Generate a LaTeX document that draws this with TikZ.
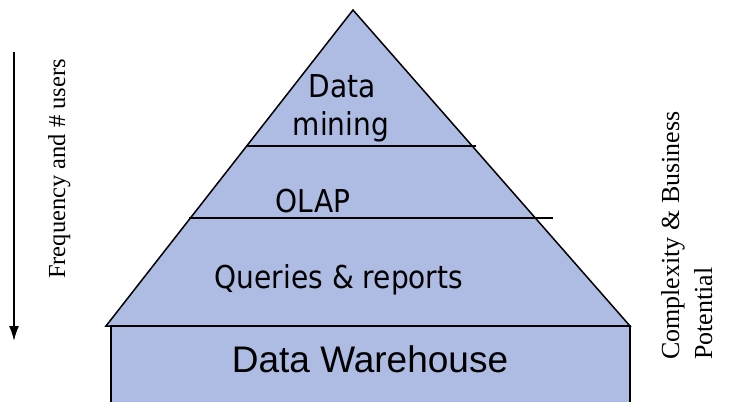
\documentclass[tikz,border=0pt]{standalone}
\usepackage{fontspec}
\setmainfont{Liberation Serif}
\newfontfamily\layerfont[FakeStretch=0.89]{DejaVu Sans}
\newfontfamily\basefont{Liberation Sans}
\usetikzlibrary{arrows.meta}
\definecolor{pyrblue}{RGB}{174,188,228}
\begin{document}
\begin{tikzpicture}[x=1pt,y=-1pt,
    layer/.style={anchor=base,inner sep=0pt,font=\layerfont\fontsize{31.5}{38}\selectfont},
    sidetext/.style={rotate=90,inner sep=0pt},
    edge/.style={line width=1.5pt,line join=miter}]
    \useasboundingbox (0,0) rectangle (740,402);
    % pyramid corners
    \coordinate (apex) at (353,10);
    \coordinate (baseL) at (106,326);
    \coordinate (baseR) at (630,326);
    \fill[pyrblue] (apex) -- (baseL) -- (baseR) -- cycle;
    \draw[edge] (apex) -- (baseL) -- (baseR) -- cycle;
    % warehouse block
    \coordinate (whTL) at (111,326);
    \coordinate (whTR) at (630,326);
    \coordinate (whBL) at (111,402);
    \coordinate (whBR) at (630,402);
    \fill[pyrblue] (whTL) rectangle (whBR);
    \draw[edge] (whBL) -- (whTL) -- (whTR) -- (whBR);
    % layer separators
    \coordinate (minL) at (247,146);
    \coordinate (minR) at (476,146);
    \coordinate (olapL) at (189,218);
    \coordinate (olapR) at (553,218);
    \draw[line width=1.2pt] (minL) -- (minR);
    \draw[line width=1.2pt] (olapL) -- (olapR);
    % layer labels
    \node[layer] (data) at (342,97) {Data};
    \node[layer] (mining) at (341,135) {mining};
    \node[layer] (olap) at (313,212) {OLAP};
    \node[layer] (queries) at (339,288) {Queries \& reports};
    \node[anchor=base,inner sep=0pt,font=\basefont\fontsize{37}{44}\selectfont] (dw) at (370,372) {Data Warehouse};
    % side labels
    \node[sidetext,anchor=base,font=\fontsize{24.5}{28}\selectfont] (freq) at (65,169) {Frequency and \# users};
    \node[sidetext,anchor=base west,font=\fontsize{26}{30}\selectfont] (cplx) at (679,360) {Complexity \& Business};
    \node[sidetext,anchor=base west,font=\fontsize{26}{30}\selectfont] (potl) at (712,360) {Potential};
    \coordinate (arrtop) at (14,52);
    \coordinate (arrbot) at (14,341);
    \draw[-{Latex[length=15pt,width=10pt]},line width=1.6pt] (arrtop) -- (arrbot);
\end{tikzpicture}
\end{document}
